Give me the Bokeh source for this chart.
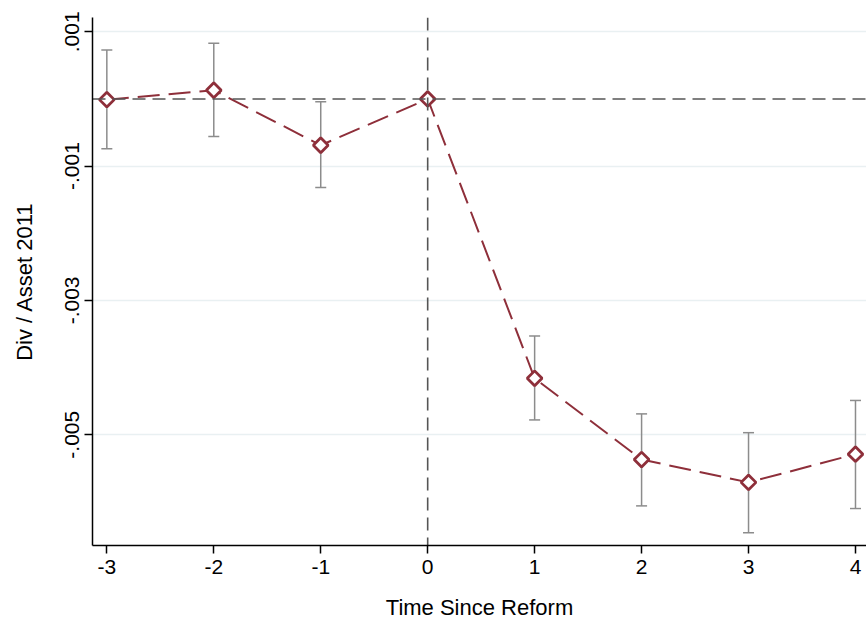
import math
from bokeh.plotting import figure
from bokeh.models import Range1d, FixedTicker, CustomJSTickFormatter, Span, ColumnDataSource
from bokeh.embed import file_html
from bokeh.resources import INLINE

# ---- data ----
time = [-3, -2, -1, 0, 1, 2, 3, 4]
coef = [-0.00001, 0.00013, -0.00069, 0.0, -0.00416, -0.00537, -0.00571, -0.00529]
ci_time = [-3, -2, -1, 1, 2, 3, 4]
ci_low = [-0.00074, -0.00056, -0.00132, -0.00478, -0.00606, -0.00646, -0.00610]
ci_high = [0.00073, 0.00083, -0.00004, -0.00353, -0.00469, -0.00497, -0.00449]
x_ticks = [-3, -2, -1, 0, 1, 2, 3, 4]
y_ticks = [0.001, -0.001, -0.003, -0.005]
x_title = "Time Since Reform"
y_title = "Div / Asset 2011"

FONT = "Liberation Sans"
MAROON = "#8E2F3A"
GREY = "#8C8C8C"

p = figure(width=866, height=625, output_backend="svg", toolbar_location=None,
           x_range=Range1d(-3.134, 4.103), y_range=Range1d(-0.00665, 0.001213),
           min_border_left=92, min_border_right=0, min_border_top=17, min_border_bottom=80)
p.outline_line_color = None
p.background_fill_color = "white"
p.border_fill_color = "white"

# axes
for ax in (p.xaxis[0], p.yaxis[0]):
    ax.axis_line_color = "black"
    ax.axis_line_width = 1.5
    ax.major_tick_line_color = "black"
    ax.major_tick_line_width = 1.5
    ax.major_tick_out = 8
    ax.major_tick_in = 0
    ax.minor_tick_line_color = None
    ax.major_label_text_font = FONT
    ax.major_label_text_font_size = "21px"
    ax.major_label_text_color = "black"
    ax.axis_label_text_font = FONT
    ax.axis_label_text_font_size = "22px"
    ax.axis_label_text_font_style = "normal"
    ax.axis_label_text_color = "black"

p.xaxis.ticker = FixedTicker(ticks=x_ticks)
p.xaxis.formatter = CustomJSTickFormatter(code="return String(tick);")
p.xaxis.axis_label = x_title
p.xaxis.major_label_standoff = 6
p.xaxis.axis_label_standoff = 18

p.yaxis.ticker = FixedTicker(ticks=y_ticks)
p.yaxis.formatter = CustomJSTickFormatter(code="""
    return tick.toFixed(3).replace("0.", ".");
""")
p.yaxis.major_label_orientation = "vertical"
p.yaxis.major_label_standoff = 5
p.yaxis.axis_label = y_title
p.yaxis.axis_label_standoff = 26

# grid
p.xgrid.grid_line_color = None
p.ygrid.grid_line_color = "#E9F0F2"
p.ygrid.grid_line_width = 1.5

# reference lines
hz = Span(location=0, dimension="width", line_color="#555555", line_width=1.6,
          line_dash="13 7", level="glyph")
vt = Span(location=0, dimension="height", line_color="#555555", line_width=1.6,
          line_dash="13 7", level="glyph")
p.add_layout(hz)
p.add_layout(vt)

# confidence intervals
ci = ColumnDataSource(dict(t=ci_time, lo=ci_low, hi=ci_high))
p.segment(x0="t", y0="lo", x1="t", y1="hi", source=ci, line_color=GREY, line_width=1.5)
p.scatter(x="t", y="lo", source=ci, marker="dash", size=11, line_color=GREY, line_width=1.5)
p.scatter(x="t", y="hi", source=ci, marker="dash", size=11, line_color=GREY, line_width=1.5)

# coefficients
src = ColumnDataSource(dict(t=time, b=coef))
p.line(x="t", y="b", source=src, line_color=MAROON, line_width=2, line_dash="22 9")
p.scatter(x="t", y="b", source=src, marker="square", angle=math.pi / 4, size=10.5,
          fill_color="white", line_color=MAROON, line_width=2.8)

open("out.html", "w").write(file_html(p, INLINE))
